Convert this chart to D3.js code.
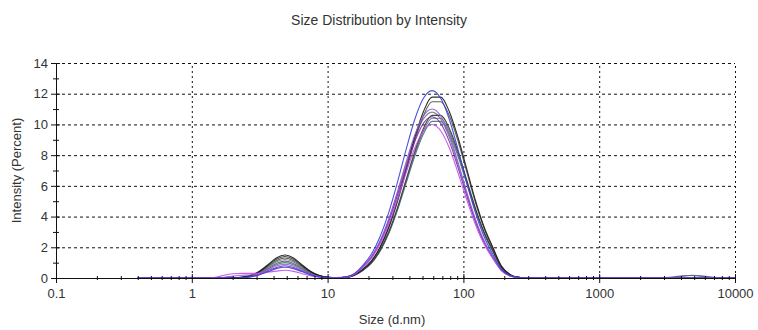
<!DOCTYPE html>
<html>
<head>
<meta charset="utf-8">
<script src="https://cdn.jsdelivr.net/npm/d3@7"></script>
<style>
  body { margin: 0; background: #fff; }
  text { font-family: "Liberation Sans", Arial, sans-serif; fill: #333; }
</style>
</head>
<body>
<div id="chart"></div>
<script>
// size bins (d.nm), 70 log-spaced classes
const sizes = [0.4, 0.4632, 0.5365, 0.6213, 0.7195, 0.8332, 0.9649, 1.117, 1.294, 1.499,
  1.736, 2.010, 2.328, 2.696, 3.122, 3.615, 4.187, 4.849, 5.615, 6.503,
  7.531, 8.721, 10.10, 11.70, 13.54, 15.69, 18.17, 21.04, 24.36, 28.21,
  32.67, 37.84, 43.82, 50.75, 58.77, 68.06, 78.82, 91.28, 105.7, 122.4,
  141.8, 164.2, 190.1, 220.2, 255.0, 295.3, 342.0, 396.1, 458.7, 531.2,
  615.1, 712.4, 825.0, 955.4, 1106, 1281, 1484, 1718, 1990, 2305,
  2669, 3091, 3580, 4145, 4801, 5560, 6439, 7456, 8635, 10000];

// intensity (%) per bin, one array per measurement
const runA = [0,0,0,0,0,0,0,0,0,0,0, .01,.04,.16,.42,.85,1.30,1.5,1.30,.85,.42,.16,.04,
  .01,.04,.19,.57,1.12,2.02,3.34,5.08,7.12,9.15,10.83,11.78,11.78,10.83,9.15,7.12,5.08,3.34,2.02,.80,.23,.04,0,
  0,0,0,0,0,0,0,0,0,0,0,0,0,0,0,0,0,0,0,0,0,0,0,0];
const runB = [0,0,0,0,0,0,0,0,0,0,0, .01,.04,.14,.37,.74,1.13,1.3,1.13,.74,.37,.14,.04,
  .01,.04,.19,.56,1.09,1.97,3.26,4.95,6.94,8.92,10.56,11.48,11.48,10.56,8.92,6.94,4.95,3.26,1.97,.76,.22,.04,0,
  0,0,0,0,0,0,0,0,0,0,0,0,0,0,0,0,0,0,0,0,0,0,0,0];
const runC = [0,0,0,0,0,0,0,0,0,0,0, .01,.03,.13,.34,.68,1.04,1.2,1.04,.68,.34,.13,.03,
  .01,.06,.25,.73,1.38,2.39,3.78,5.52,7.40,9.14,10.36,10.8,10.36,9.14,7.40,5.52,3.78,2.39,1.38,.51,.14,.02,0,
  0,0,0,0,0,0,0,0,0,0,0,0,0,0,0,0,0,0,0,0,0,0,0,0];
const runD = [0,0,0,0,0,0,0,0,0,0,0, .01,.04,.15,.39,.80,1.22,1.4,1.22,.80,.39,.15,.04,
  .01,.04,.18,.51,1.01,1.82,3.01,4.57,6.40,8.23,9.74,10.59,10.59,9.74,8.23,6.40,4.57,3.01,1.82,.71,.20,.04,0,
  0,0,0,0,0,0,0,0,0,0,0,0,0,0,0,0,0,0,0,0,0,0,0,0];
const runE = [0,0,0,0,0,0,0,0,0,0,0, .01,.03,.12,.31,.63,.95,1.1,.95,.63,.31,.12,.03,
  .01,.04,.17,.50,.99,1.79,2.95,4.48,6.28,8.07,9.56,10.40,10.40,9.56,8.07,6.28,4.48,2.95,1.79,.69,.20,.04,0,
  0,0,0,0,0,0,0,0,0,0,0,0,0,0,0, .03,.08,.14,.16,.12,.06,.02,0,0];
const runF = [0,0,0,0,0,0,0,0,0,0,0, 0,.02,.08,.22,.46,.69,.8,.69,.46,.22,.08,.02,
  0,.06,.25,.71,1.34,2.32,3.68,5.37,7.19,8.88,10.07,10.5,10.07,8.88,7.19,5.37,3.68,2.32,1.34,.50,.14,.02,0,
  0,0,0,0,0,0,0,0,0,0,0,0,0,0,0,0,0,0,0,0,0,0,0,0];
const runG = [0,0,0,0,0,0,0,0,0,0,0, 0,.02,.07,.20,.40,.61,.7,.61,.40,.20,.07,.02,
  0,.06,.28,.83,1.56,2.70,4.27,6.23,8.36,10.32,11.70,12.2,11.70,10.32,8.36,6.23,4.27,2.70,1.56,.58,.16,.03,0,
  0,0,0,0,0,0,0,0,0,0,0,0,0,0,0,0,0,0,0,0,0,0,0,0];
const runH = [0,0,0,0,0,0,0,0,0,.05,.18, .28,.30,.30,.30,.38,.45,.5,.43,.28,.14,.05,.01,
  .01,.05,.23,.68,1.28,2.21,3.50,5.11,6.85,8.46,9.59,10.0,9.59,8.46,6.85,5.11,3.50,2.21,1.28,.48,.13,.02,0,
  0,0,0,0,0,0,0,0,0,0,0,0,0,0,0,0,0,0,0,0,0,0,0,0];
const runI = [0,0,0,0,0,0,0,0,0,0,.05, .12,.18,.2,.3,.51,.78,.9,.78,.51,.25,.09,.03,
  .03,.06,.25,.75,1.41,2.43,3.85,5.62,7.54,9.31,10.55,11.0,10.55,9.31,7.54,5.62,3.85,2.43,1.41,.53,.14,.03,0,
  0,0,0,0,0,0,0,0,0,0,0,0,0,0,0,0,0,0,0,0,0,0,0,0];
const runJ = [0,0,0,0,0,0,0,0,0,0,0, .01,.03,.11,.28,.57,.87,1.0,.87,.57,.28,.11,.03,
  .01,.04,.17,.49,.97,1.75,2.89,4.40,6.16,7.92,9.37,10.20,10.20,9.37,7.92,6.16,4.40,2.89,1.75,.68,.20,.04,0,
  0,0,0,0,0,0,0,0,0,0,0,0,0,0,0,0, .05,.12,.18,.15,.07,.02,0,0];

const runs = [runJ, runE, runC, runB, runD, runA, runF, runI, runH, runG];
const runColors = ['#3f7a70', '#5c6680', '#7a7a7a', '#4d4d4d', '#333333', '#1a1a1a',
  '#7b2fb5', '#8c5ad0', '#c44be8', '#3b3fd6'];

const xDecades = [0.1, 1, 10, 100, 1000, 10000];
const yMajor = [0, 2, 4, 6, 8, 10, 12, 14];
const yMinor = [1, 3, 5, 7, 9, 11, 13];

const W = 758, H = 330;
const box = { left: 56, right: 735, top: 63, bottom: 278 };

const svg = d3.select('#chart').append('svg')
  .attr('width', W).attr('height', H);

const x = d3.scaleLog().domain([0.1, 10000]).range([box.left, box.right]);
const y = d3.scaleLinear().domain([0, 14]).range([box.bottom, box.top]);

const xMinor = [];
xDecades.slice(0, -1).forEach(d => {
  for (let k = 2; k <= 9; k++) xMinor.push(d * k);
});

// grid
svg.append('g')
  .attr('transform', `translate(${box.left},0)`)
  .call(d3.axisLeft(y).tickValues(yMajor.slice(1)).tickSize(-(box.right - box.left)).tickFormat(''))
  .call(g => g.select('.domain').remove())
  .selectAll('line')
  .attr('stroke', '#555').attr('stroke-dasharray', '3,3');

svg.append('g')
  .attr('transform', `translate(0,${box.bottom})`)
  .call(d3.axisBottom(x).tickValues(xDecades.slice(1)).tickSize(-(box.bottom - box.top)).tickFormat(''))
  .call(g => g.select('.domain').remove())
  .selectAll('line')
  .attr('stroke', '#555').attr('stroke-dasharray', '2,3');

// curves
const line = d3.line()
  .x((d, i) => x(sizes[i]))
  .y(d => y(d))
  .curve(d3.curveMonotoneX);

svg.append('g').selectAll('path')
  .data(runs)
  .join('path')
  .attr('d', line)
  .attr('fill', 'none')
  .attr('stroke', (d, i) => runColors[i])
  .attr('stroke-width', 1.1)
  .attr('opacity', 0.9);

// axes
const yAxis = svg.append('g')
  .attr('transform', `translate(${box.left},0)`)
  .call(d3.axisLeft(y).tickValues(yMajor).tickSize(5).tickPadding(3).tickFormat(d3.format('d')));
yAxis.selectAll('.tick line').attr('x1', 4);

const yAxisMinor = svg.append('g')
  .attr('transform', `translate(${box.left},0)`)
  .call(d3.axisLeft(y).tickValues(yMinor).tickSize(3).tickFormat(''));
yAxisMinor.select('.domain').remove();
yAxisMinor.selectAll('.tick line').attr('x1', 3);

const xAxis = svg.append('g')
  .attr('transform', `translate(0,${box.bottom})`)
  .call(d3.axisBottom(x).tickValues(xDecades).tickSize(5).tickPadding(6).tickFormat(d => String(d)));
xAxis.selectAll('.tick line').attr('y1', -4);

const xAxisMinor = svg.append('g')
  .attr('transform', `translate(0,${box.bottom})`)
  .call(d3.axisBottom(x).tickValues(xMinor).tickSize(2).tickFormat(''));
xAxisMinor.select('.domain').remove();
xAxisMinor.selectAll('.tick line').attr('y1', -2);

svg.selectAll('.domain, .tick line').attr('stroke', '#111');
svg.selectAll('.tick text')
  .attr('font-size', 13)
  .attr('font-family', '"Liberation Sans", Arial, sans-serif')
  .attr('fill', '#333');

// titles
svg.append('text')
  .attr('x', 379).attr('y', 25)
  .attr('text-anchor', 'middle')
  .attr('font-size', 14)
  .text('Size Distribution by Intensity');

svg.append('text')
  .attr('x', 392).attr('y', 324)
  .attr('text-anchor', 'middle')
  .attr('font-size', 13)
  .text('Size (d.nm)');

svg.append('text')
  .attr('transform', `translate(21,${(box.top + box.bottom) / 2}) rotate(-90)`)
  .attr('text-anchor', 'middle')
  .attr('font-size', 13)
  .text('Intensity (Percent)');
</script>
</body>
</html>
